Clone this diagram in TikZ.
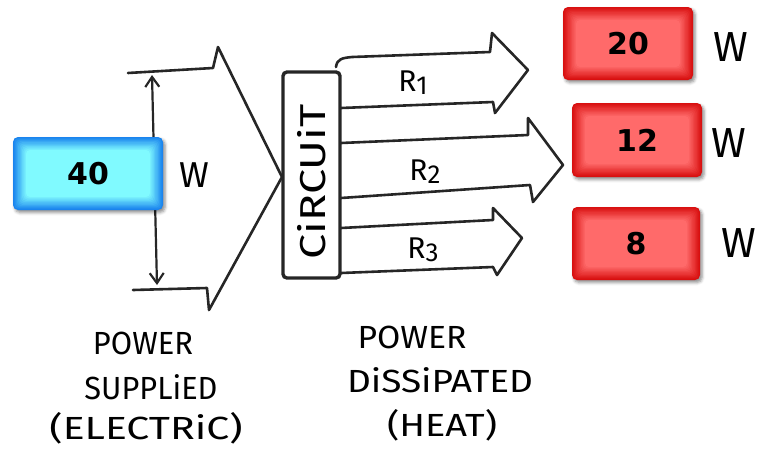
\documentclass[tikz,border=0pt]{standalone}
\usepackage{fontspec}
\setmainfont{Fira Sans}
\newfontfamily\numfont{DejaVu Sans}
\usetikzlibrary{arrows.meta,shadows.blur}

\definecolor{blueedge}{HTML}{1A84EE}
\definecolor{bluecore}{HTML}{80FAFF}
\definecolor{rededge}{HTML}{D81010}
\definecolor{redcore}{HTML}{FF6A6A}

\tikzset{
  x=1pt, y=-1pt,
  sketch/.style={line width=2.6pt, line join=round, line cap=round, black!85},
  hand/.style={font=\fontsize{32}{34}\selectfont, inner sep=0pt},
  unitw/.style={font=\fontsize{#1}{#1}\selectfont, inner sep=0pt},
  glowbox/.style n args={4}{
    rounded corners=5pt, minimum width=#3pt, minimum height=#4pt,
    inner sep=0pt, fill=#1,
    blur shadow={shadow xshift=2pt, shadow yshift=-2.5pt, shadow blur radius=3pt, shadow opacity=45},
    font=\numfont\bfseries\fontsize{30}{30}\selectfont,
    path picture={
      \foreach \i in {1,...,10}{
        \pgfmathsetmacro\p{10*\i}
        \fill[#2!\p!#1, rounded corners=4pt]
          ([shift={(\i*1.3pt,-\i*1.3pt)}]path picture bounding box.north west) rectangle
          ([shift={(-\i*1.3pt,\i*1.3pt)}]path picture bounding box.south east);
      }
    }
  }
}

\begin{document}
\begin{tikzpicture}
\useasboundingbox (0,0) rectangle (757,448);

% supply arrow entering the circuit
\draw[sketch] (128,73) -- (213,68) -- (218,47) -- (282,177)
              -- (209,310) -- (207,288) -- (133,290);

% double-headed dimension arrow
\coordinate (wtop) at (152,75);
\coordinate (wbot) at (157,285);
\draw[sketch, line width=2.2pt,
      {Straight Barb[length=10pt,width=14pt,line width=2.2pt]}-{Straight Barb[length=10pt,width=14pt,line width=2.2pt]}]
      (wtop) -- (wbot);

% supplied power
\node[glowbox={blueedge}{bluecore}{150}{73}] (b40) at (88,173.5) {40};
\node[unitw=36] (w40) at (194,175) {W};

% circuit block
\node[draw, line width=3.4pt, black!85, rounded corners=4pt,
      minimum width=57pt, minimum height=206pt] (circ) at (311.5,175) {};
\node[rotate=90, unitw=36] (circt) at (312,182)
      {\resizebox{155pt}{\height}{CiRCUiT}};

% dissipated power arrows
\draw[sketch] (336,67) .. controls (337,59) and (342,58) .. (352,57) -- (490,52)
              -- (492,33) -- (528,70) -- (495,113) -- (493,102) -- (341,108);
\draw[sketch] (341,143) -- (528,135) -- (528,118) -- (563,165)
              -- (533,202) -- (530,185) -- (341,198);
\draw[sketch] (341,228) -- (493,220) -- (493,208) -- (522,238)
              -- (497,275) -- (493,267) -- (341,273);

\node[unitw=30] (r1) at (413,83)  {R\raisebox{-3pt}{\fontsize{26}{26}\selectfont 1}};
\node[unitw=30] (r2) at (425,172) {R\raisebox{-3pt}{\fontsize{26}{26}\selectfont 2}};
\node[unitw=30] (r3) at (423,250) {R\raisebox{-3pt}{\fontsize{26}{26}\selectfont 3}};

% dissipated power values
\node[glowbox={rededge}{redcore}{130}{73}] (b20) at (628,43.5) {20};
\node[glowbox={rededge}{redcore}{130}{74}] (b12) at (637,140) {12};
\node[glowbox={rededge}{redcore}{128}{73}] (b8)  at (636,243.5) {8};
\node[unitw=42] (w20) at (731,47)  {W};
\node[unitw=42] (w12) at (729,143) {W};
\node[unitw=42] (w8)  at (739,243) {W};

% captions
\node[hand] (s1) at (143,343) {\resizebox{100pt}{\height}{POWER}};
\node[hand] (s2) at (151,387) {\resizebox{133pt}{\height}{SUPPLiED}};
\node[hand] (s3) at (146,428) {\resizebox{193pt}{\height}{(ELECTRiC)}};
\node[hand] (d1) at (412,337) {\resizebox{109pt}{\height}{POWER}};
\node[hand] (d2) at (440,380) {\resizebox{186pt}{\height}{DiSSiPATED}};
\node[hand] (d3) at (442,425) {\resizebox{110pt}{\height}{(HEAT)}};
\end{tikzpicture}
\end{document}
